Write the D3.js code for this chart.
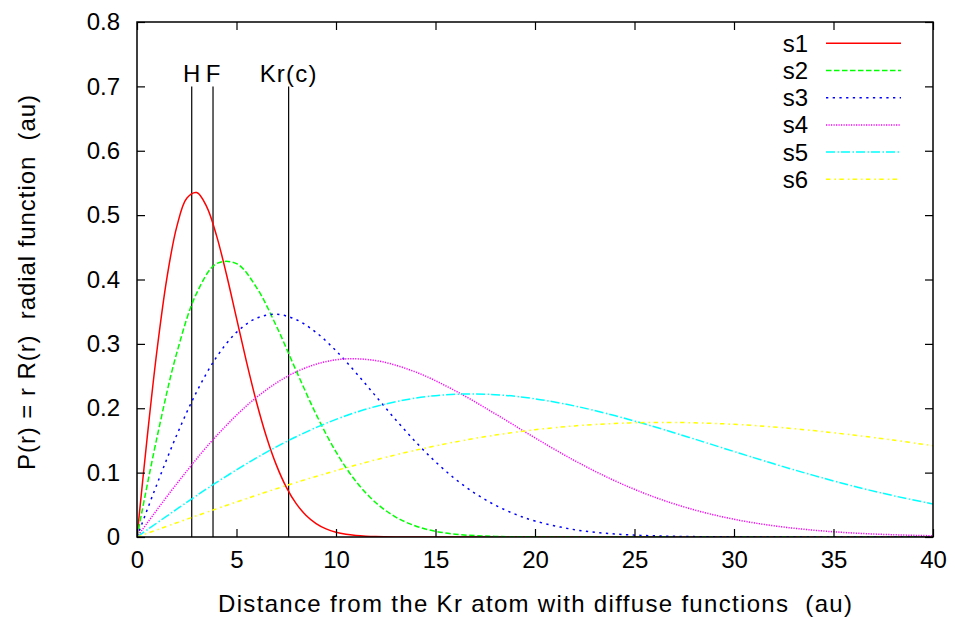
<!DOCTYPE html>
<html><head><meta charset="utf-8">
<script src="https://cdn.jsdelivr.net/npm/d3@7"></script>
<style>body{margin:0;background:#fff}svg{display:block}text{font-family:"Liberation Sans",Arial,Helvetica,sans-serif;fill:#000;white-space:pre}</style>
</head><body><svg id="c" width="955" height="620"></svg>
<script>
// ---- data ----
const seriesNames = ["s1","s2","s3","s4","s5","s6"];
const xTicks = [0,5,10,15,20,25,30,35,40];
const yTicks = [0,0.1,0.2,0.3,0.4,0.5,0.6,0.7,0.8];
const markerNames = ["H","F","Kr(c)"];
const markerPos = [2.75,3.82,7.62];
const markerTop = 0.7;

const r1 = [0,0.5,1,1.5,2,2.5,3,3.5,4,4.5,5,5.5,6,6.5,7,7.5,8,8.5,9,9.5,10,10.5,11,11.5,12,13,14,16,20,30,40];
const s1 = [0,0.1511,0.2889,0.4019,0.4822,0.5263,0.5351,0.5132,0.4678,0.4074,0.3399,0.2725,0.2102,0.1562,0.1120,0.0775,0.0518,0.0335,0.0209,0.0126,0.0074,0.0042,0.0023,0.0012,0.0006,0.00015,0.00003,0,0,0,0];
const r2 = [0,1,2,3,4,5,6,7,8,9,10,11,12,13,14,15,16,17,18,20,24,28,32,36,40];
const s2 = [0,0.1540,0.2860,0.3789,0.4247,0.4247,0.3879,0.3279,0.2583,0.1906,0.1322,0.0864,0.0533,0.0310,0.0171,0.0089,0.0044,0.0021,0.0009,0.0002,0,0,0,0,0];
const r3 = [0,1,2,3,4,5,6,7,8,9,10,11,12,13,14,15,16,17,18,19,20,22,24,26,28,30,32,36,40];
const s3 = [0,0.0818,0.1586,0.2257,0.2796,0.3179,0.3399,0.3459,0.3377,0.3178,0.2893,0.2552,0.2187,0.1822,0.1478,0.1168,0.0899,0.0676,0.0495,0.0355,0.0248,0.0113,0.0047,0.0018,0.0006,0.0002,0,0,0];
const r456 = [0,2,4,6,8,10,12,14,16,18,20,22,24,26,28,30,32,34,36,38,40];
const s4 = [0,0.0828,0.1573,0.2167,0.2566,0.2753,0.2740,0.2563,0.2270,0.1914,0.1540,0.1185,0.0875,0.0620,0.0422,0.0276,0.0174,0.0106,0.0062,0.0035,0.0019];
const s5 = [0,0.0433,0.0848,0.1228,0.1558,0.1827,0.2028,0.2157,0.2217,0.2211,0.2147,0.2035,0.1886,0.1712,0.1523,0.1328,0.1137,0.0957,0.0790,0.0642,0.0513];
const s6 = [0,0.0221,0.0438,0.0648,0.0847,0.1031,0.1199,0.1348,0.1477,0.1583,0.1666,0.1726,0.1764,0.1779,0.1774,0.1750,0.1709,0.1653,0.1584,0.1505,0.1418];
const xTitle = "Distance from the Kr atom with diffuse functions  (au)";
const yTitle = "P(r) = r R(r)  radial function  (au)";

// ---- styles ----
const colors = ["#ff0000","#00ff00","#0000ff","#ff00ff","#00ffff","#ffff00"];
const dashes = [null,"5.5,2.5","2.3,4.4","1.2,1.3","9,2.5,1.5,2","4.5,4,1.5,3.3"];
const FS = 24;

const svg = d3.select("#c");
const L = 137, R = 933, T = 22, B = 537;
const x = d3.scaleLinear().domain([0,40]).range([L,R]);
const y = d3.scaleLinear().domain([0,0.8]).range([B,T]);

const seriesX = [r1,r2,r3,r456,r456,r456];
const seriesY = [s1,s2,s3,s4,s5,s6];

svg.append("clipPath").attr("id","pc").append("rect")
  .attr("x",L).attr("y",T).attr("width",R-L).attr("height",B-T);

// marker vertical lines
svg.append("g").selectAll("line").data(markerPos).join("line")
  .attr("x1",d=>x(d)).attr("x2",d=>x(d)).attr("y1",y(0)).attr("y2",y(markerTop))
  .attr("stroke","#000").attr("stroke-width",1.2);
svg.append("g").selectAll("text").data(markerNames).join("text")
  .attr("x",(d,i)=>x(markerPos[i])).attr("y",y(markerTop)-4)
  .attr("text-anchor","middle").attr("font-size",FS)
  .attr("letter-spacing",(d,i)=>i===2?"1.2":null).text(d=>d);

// curves
const line = d3.line().curve(d3.curveCatmullRom.alpha(0.5));
const g = svg.append("g").attr("clip-path","url(#pc)");
seriesY.forEach((ys,i)=>{
  const pts = ys.map((v,j)=>[x(seriesX[i][j]), y(v)]);
  g.append("path").attr("d",line(pts)).attr("fill","none")
    .attr("stroke",colors[i]).attr("stroke-width",1.5)
    .attr("stroke-dasharray",dashes[i]);
});

// axes
const axB = d3.axisBottom(x).tickValues(xTicks).tickSize(-8).tickPadding(14).tickFormat(d3.format("d"));
const axT = d3.axisTop(x).tickValues(xTicks).tickSize(-8).tickFormat("");
const axL = d3.axisLeft(y).tickValues(yTicks).tickSize(-8).tickPadding(17).tickFormat(d=>d===0?"0":d3.format(".1f")(d));
const axR = d3.axisRight(y).tickValues(yTicks).tickSize(-8).tickFormat("");
function style(sel){
  sel.select(".domain").remove();
  sel.selectAll("line").attr("stroke","#000").attr("stroke-width",1.2);
  sel.selectAll("text").attr("font-size",FS).attr("font-family",null).attr("fill","#000");
}
svg.append("g").attr("transform",`translate(0,${B})`).call(axB).call(style);
svg.append("g").attr("transform",`translate(0,${T})`).call(axT).call(style);
svg.append("g").attr("transform",`translate(${L},0)`).call(axL).call(style);
svg.append("g").attr("transform",`translate(${R},0)`).call(axR).call(style);
svg.append("rect").attr("x",L).attr("y",T).attr("width",R-L).attr("height",B-T)
  .attr("fill","none").attr("stroke","#000").attr("stroke-width",1.5);

// titles
svg.append("text").attr("x",(L+R)/2).attr("y",612).attr("text-anchor","middle")
  .attr("font-size",FS).attr("textLength",634).attr("lengthAdjust","spacing").text(xTitle);
svg.append("text").attr("transform",`translate(35,282.5) rotate(-90)`)
  .attr("text-anchor","middle").attr("font-size",FS)
  .attr("textLength",375).attr("lengthAdjust","spacing").text(yTitle);

// legend
const lg = svg.append("g");
seriesNames.forEach((n,i)=>{
  const yy = 43.3 + i*27.2;
  lg.append("text").attr("x",808).attr("y",yy).attr("dy","0.35em")
    .attr("text-anchor","end").attr("font-size",FS).text(n);
  lg.append("line").attr("x1",826).attr("x2",901).attr("y1",yy).attr("y2",yy)
    .attr("stroke",colors[i]).attr("stroke-width",1.5).attr("stroke-dasharray",dashes[i]);
});
</script></body></html>
